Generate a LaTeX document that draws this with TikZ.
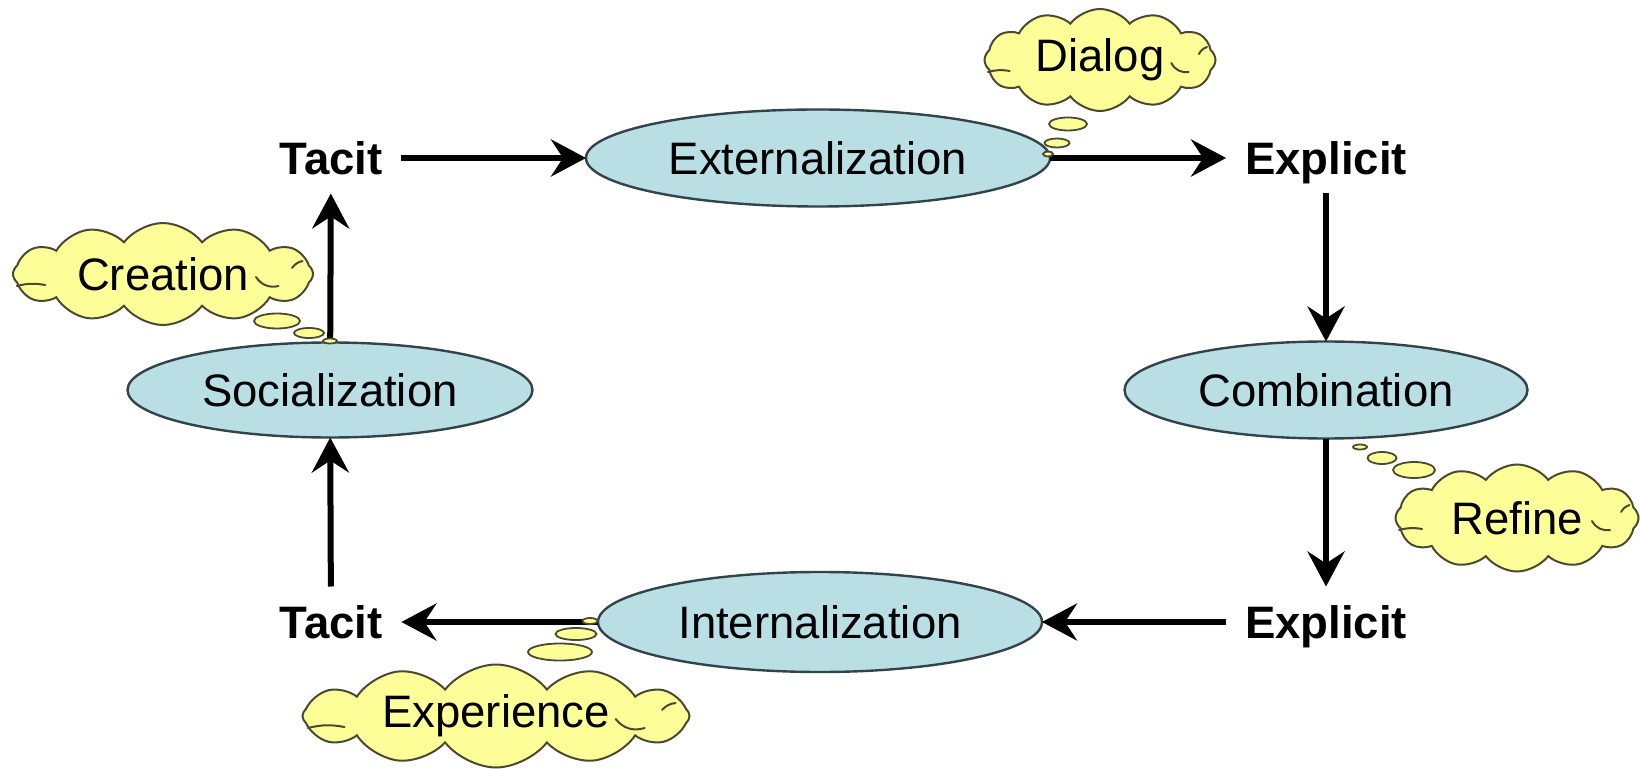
\documentclass[tikz,border=0pt]{standalone}
\usepackage{fontspec}
\setmainfont{Liberation Sans}
\usetikzlibrary{shapes.geometric,shapes.symbols,arrows.meta}
\definecolor{phasefill}{HTML}{B9DFE4}
\definecolor{phaseline}{HTML}{33434A}
\definecolor{thoughtfill}{HTML}{FFFF99}
\definecolor{thoughtline}{HTML}{4A4A30}
% creases inside a thought cloud: #1 = cloud node, #2 = its half width
\newcommand\cloudcreases[2]{%
  \draw[crease] ([shift={(-0.975*#2,12)}]#1.center) to[bend left=12] ++(0.19*#2,-1);
  \draw[crease] ([shift={(0.62*#2,3)}]#1.center) to[bend right=35] ++(0.15*#2,9);
  \draw[crease] ([shift={(0.86*#2,-6)}]#1.center) to[bend left=20] ++(0.07*#2,-7);
}
\begin{document}
\begin{tikzpicture}[x=0.5pt,y=-0.5pt,
  phase/.style={ellipse, draw=phaseline, line width=1.2pt, fill=phasefill,
    inner sep=0pt, outer sep=0pt, font=\fontsize{22.75}{27}\selectfont,
    text height=16.5pt, text depth=0pt},
  kind/.style={font=\fontsize{22.75}{27}\selectfont\bfseries, inner sep=0pt,
    outer sep=9.5pt, text height=16.5pt, text depth=0pt},
  thought/.style={cloud, cloud puffs=12, cloud puff arc=105, cloud ignores aspect,
    draw=thoughtline, line width=1pt, fill=thoughtfill, inner sep=0pt,
    font=\fontsize{22.75}{27}\selectfont},
  crease/.style={draw=thoughtline, line width=1pt, line cap=round},
  bubble/.style={ellipse, draw=thoughtline, line width=0.9pt, fill=thoughtfill,
    inner sep=0pt, outer sep=0pt},
  flow/.style={line width=3pt, -{Stealth[length=17.5pt,width=18.5pt,inset=6pt]}}
]
\useasboundingbox (0,0) rectangle (1641,769);

% the four stages
\node[phase, minimum width=232pt, minimum height=48.5pt] (ext) at (818,158) {Externalization};
\node[phase, minimum width=201.5pt, minimum height=48.5pt] (comb) at (1326,390) {Combination};
\node[phase, minimum width=222pt, minimum height=50pt] (int) at (820,622) {Internalization};
\node[phase, minimum width=202.5pt, minimum height=47.5pt] (soc) at (330,390) {Socialization};

% kinds of knowledge
\node[kind] (tacitT) at (331,158) {Tacit};
\node[kind] (explT) at (1326,158) {Explicit};
\node[kind] (explB) at (1326,622) {Explicit};
\node[kind] (tacitB) at (331,622) {Tacit};

% the cycle
\draw[flow] (tacitT) -- (ext);
\draw[flow] (ext) -- (explT);
\draw[flow] (explT) -- (comb);
\draw[flow] (comb) -- (explB);
\draw[flow] (explB) -- (int);
\draw[flow] (int) -- (tacitB);
\draw[flow] (tacitB) -- (soc);
\draw[flow] (soc) -- (tacitT);

% thought clouds with their trails of bubbles
\node[thought, minimum width=115.5pt, minimum height=51pt] (dialog) at (1100,60) {Dialog};
\cloudcreases{dialog}{115}
\node[bubble, minimum width=19pt, minimum height=6.5pt] (d1) at (1068,124) {};
\node[bubble, minimum width=12.5pt, minimum height=4.5pt] (d2) at (1057,143) {};
\node[bubble, minimum width=5pt, minimum height=2.5pt] (d3) at (1048,154) {};

\node[thought, minimum width=150pt, minimum height=51pt] (creation) at (163,274) {Creation};
\cloudcreases{creation}{150}
\node[bubble, minimum width=23pt, minimum height=7.5pt] (c1) at (277,321) {};
\node[bubble, minimum width=15pt, minimum height=5pt] (c2) at (309,333) {};
\node[bubble, minimum width=7pt, minimum height=2.5pt] (c3) at (330,341) {};

\node[thought, minimum width=121.5pt, minimum height=53.5pt] (refine) at (1517,518) {Refine};
\cloudcreases{refine}{121}
\node[bubble, minimum width=21pt, minimum height=8pt] (r1) at (1414,470) {};
\node[bubble, minimum width=14.5pt, minimum height=6pt] (r2) at (1382,458) {};
\node[bubble, minimum width=7pt, minimum height=2.5pt] (r3) at (1360,447) {};

\node[thought, minimum width=193.5pt, minimum height=51.5pt] (experience) at (496,716) {Experience};
\cloudcreases{experience}{193}
\node[bubble, minimum width=32pt, minimum height=8.5pt] (e1) at (560,652) {};
\node[bubble, minimum width=20.5pt, minimum height=6pt] (e2) at (576,634) {};
\node[bubble, minimum width=7.5pt, minimum height=3pt] (e3) at (590,621) {};
\end{tikzpicture}
\end{document}
